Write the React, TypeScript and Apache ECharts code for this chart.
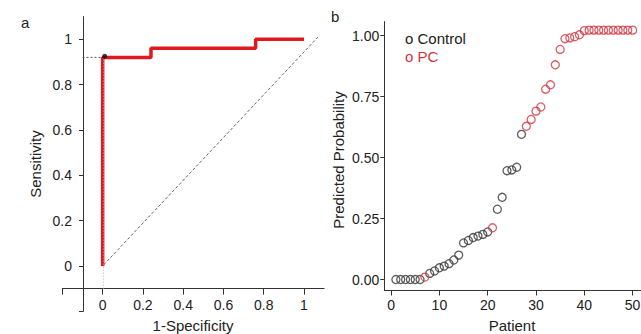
import React, { useEffect, useRef } from "react";
import * as echarts from "echarts";

// ROC curve (panel a)
const rocFpr = [0, 0, 0.24, 0.24, 0.76, 0.76, 1];
const rocTpr = [0, 0.92, 0.92, 0.96, 0.96, 1, 1];
const optimalPoint = [0.01, 0.925];
const diagonalX = [0.005, 1.07];
const diagonalY = [0.005, 1.01];
const rocTicks = [-0.2, 0, 0.2, 0.4, 0.6, 0.8, 1];
const rocLabels = [0, 0.2, 0.4, 0.6, 0.8, 1];

// Predicted probabilities (panel b)
const patients = Array.from({ length: 50 }, (_, i) => i + 1);
const groups = [
  "C", "C", "C", "C", "C", "C", "P", "C", "C", "C",
  "C", "C", "C", "C", "C", "C", "C", "C", "C", "C",
  "P", "C", "C", "C", "C", "C", "C", "P", "P", "P",
  "P", "P", "P", "P", "P", "P", "P", "P", "P", "P",
  "P", "P", "P", "P", "P", "P", "P", "P", "P", "P",
];
const probabilities = [
  0, 0, 0, 0, 0, 0, 0.01, 0.025, 0.035, 0.048,
  0.055, 0.065, 0.08, 0.1, 0.15, 0.16, 0.172, 0.178, 0.185, 0.195,
  0.212, 0.288, 0.337, 0.446, 0.449, 0.46, 0.595, 0.628, 0.656, 0.69,
  0.707, 0.78, 0.798, 0.88, 0.943, 0.987, 0.99, 0.995, 1.003, 1.02,
  1.022, 1.022, 1.022, 1.022, 1.022, 1.022, 1.022, 1.022, 1.022, 1.022,
];
const probTicks = [0, 0.25, 0.5, 0.75, 1];
const patientTicks = [0, 10, 20, 30, 40, 50];

const FONT = "Liberation Sans, Arial, Helvetica, sans-serif";
const AXIS_COLOR = "#333";
const TEXT_COLOR = "#222";
const RED = "#e0191e";
const PC_RED = "#d2343f";

export default function App() {
  const ref = useRef<HTMLDivElement>(null);

  useEffect(() => {
    document.body.style.margin = "0";
    if (!ref.current) return;
    const chart = echarts.init(ref.current, undefined, { renderer: "svg" });

    const rocLine = rocFpr.map((x, i) => [x, rocTpr[i]]);
    const diag = diagonalX.map((x, i) => [x, diagonalY[i]]);
    const controlData: number[][] = [];
    const pcData: number[][] = [];
    patients.forEach((p, i) => {
      (groups[i] === "C" ? controlData : pcData).push([p, probabilities[i]]);
    });

    const axisLine = { show: true, onZero: false, lineStyle: { color: AXIS_COLOR, width: 1 } };
    const labelStyle = { color: TEXT_COLOR, fontSize: 14, fontFamily: FONT };

    const option: any = {
      animation: false,
      backgroundColor: "#fff",
      grid: [
        { left: 62.4, top: 16.6, width: 261.7, height: 294.7, outerBoundsMode: "none", containLabel: false },
        { left: 384.3, top: 21.6, width: 257, height: 268.9, outerBoundsMode: "none", containLabel: false },
      ],
      xAxis: [
        {
          type: "value",
          gridIndex: 0,
          min: -0.2,
          max: 1.1,
          offset: -22.7,
          splitLine: { show: false },
          axisLine,
          axisTick: { show: true, length: 6, customValues: rocTicks, lineStyle: { color: AXIS_COLOR } },
          axisLabel: {
            ...labelStyle,
            margin: 9,
            customValues: rocLabels,
            formatter: (v: number) => String(Math.round(v * 10) / 10),
          },
        },
        {
          type: "value",
          gridIndex: 1,
          min: -1.4,
          max: 51.8,
          splitLine: { show: false },
          axisLine,
          axisTick: { show: true, length: 5, customValues: patientTicks, lineStyle: { color: AXIS_COLOR } },
          axisLabel: { ...labelStyle, margin: 7, customValues: patientTicks },
        },
      ],
      yAxis: [
        {
          type: "value",
          gridIndex: 0,
          min: -0.2,
          max: 1.1,
          offset: -20.6,
          splitLine: { show: false },
          axisLine,
          axisTick: { show: true, length: 4, customValues: rocTicks, lineStyle: { color: AXIS_COLOR } },
          axisLabel: {
            ...labelStyle,
            margin: 11,
            customValues: rocLabels,
            formatter: (v: number) => String(Math.round(v * 10) / 10),
          },
        },
        {
          type: "value",
          gridIndex: 1,
          min: -0.045,
          max: 1.057,
          splitLine: { show: false },
          axisLine,
          axisTick: { show: true, length: 4, customValues: probTicks, lineStyle: { color: AXIS_COLOR } },
          axisLabel: {
            ...labelStyle,
            margin: 5,
            customValues: probTicks,
            formatter: (v: number) => v.toFixed(2),
          },
        },
      ],
      series: [
        {
          type: "line",
          xAxisIndex: 0,
          yAxisIndex: 0,
          data: diag,
          symbol: "none",
          lineStyle: { color: "#666", width: 1, type: [3, 2] },
          z: 2,
        },
        {
          type: "line",
          xAxisIndex: 0,
          yAxisIndex: 0,
          data: rocLine,
          symbol: "none",
          lineStyle: { color: RED, width: 3.5 },
          z: 3,
        },
        {
          type: "line",
          xAxisIndex: 0,
          yAxisIndex: 0,
          data: [[-0.1, 0.92], [0.01, 0.92]],
          symbol: "none",
          lineStyle: { color: "#555", width: 1, type: [2, 2] },
          z: 4,
        },
        {
          type: "line",
          xAxisIndex: 0,
          yAxisIndex: 0,
          data: [[0.004, -0.1], [0.004, 0.92]],
          symbol: "none",
          lineStyle: { color: "#d9a0a0", width: 1, type: [1, 2] },
          z: 4,
        },
        {
          type: "scatter",
          xAxisIndex: 0,
          yAxisIndex: 0,
          data: [optimalPoint],
          symbol: "circle",
          symbolSize: 5,
          itemStyle: { color: "#111" },
          z: 5,
        },
        {
          name: "Control",
          type: "scatter",
          xAxisIndex: 1,
          yAxisIndex: 1,
          data: controlData,
          symbol: "circle",
          symbolSize: 8,
          itemStyle: { color: "rgba(255,255,255,0)", borderColor: "#333", borderWidth: 1.3 },
          z: 3,
        },
        {
          name: "PC",
          type: "scatter",
          xAxisIndex: 1,
          yAxisIndex: 1,
          data: pcData,
          symbol: "circle",
          symbolSize: 8,
          itemStyle: { color: "rgba(255,255,255,0)", borderColor: PC_RED, borderWidth: 1.3 },
          z: 3,
        },
      ],
      graphic: [
        { type: "text", x: 21, y: 22, style: { text: "a", fontSize: 15, fontFamily: FONT, fill: TEXT_COLOR, verticalAlign: "middle" } },
        { type: "text", x: 331, y: 16, style: { text: "b", fontSize: 15, fontFamily: FONT, fill: TEXT_COLOR, verticalAlign: "middle" } },
        {
          type: "text",
          x: 35,
          y: 164,
          rotation: Math.PI / 2,
          style: { text: "Sensitivity", fontSize: 15, fontFamily: FONT, fill: TEXT_COLOR, align: "center", verticalAlign: "middle" },
        },
        {
          type: "text",
          x: 193,
          y: 325.5,
          style: { text: "1-Specificity", fontSize: 15, fontFamily: FONT, fill: TEXT_COLOR, align: "center", verticalAlign: "middle" },
        },
        {
          type: "text",
          x: 338,
          y: 160,
          rotation: Math.PI / 2,
          style: { text: "Predicted Probability", fontSize: 15, fontFamily: FONT, fill: TEXT_COLOR, align: "center", verticalAlign: "middle" },
        },
        {
          type: "text",
          x: 512,
          y: 325.5,
          style: { text: "Patient", fontSize: 15, fontFamily: FONT, fill: TEXT_COLOR, align: "center", verticalAlign: "middle" },
        },
        { type: "text", x: 405, y: 38, style: { text: "o Control", fontSize: 15, fontFamily: FONT, fill: TEXT_COLOR, verticalAlign: "middle" } },
        { type: "text", x: 405, y: 56.5, style: { text: "o PC", fontSize: 15, fontFamily: FONT, fill: PC_RED, verticalAlign: "middle" } },
      ],
    };

    chart.setOption(option);
    return () => chart.dispose();
  }, []);

  return <div ref={ref} style={{ width: 641, height: 334 }} />;
}
